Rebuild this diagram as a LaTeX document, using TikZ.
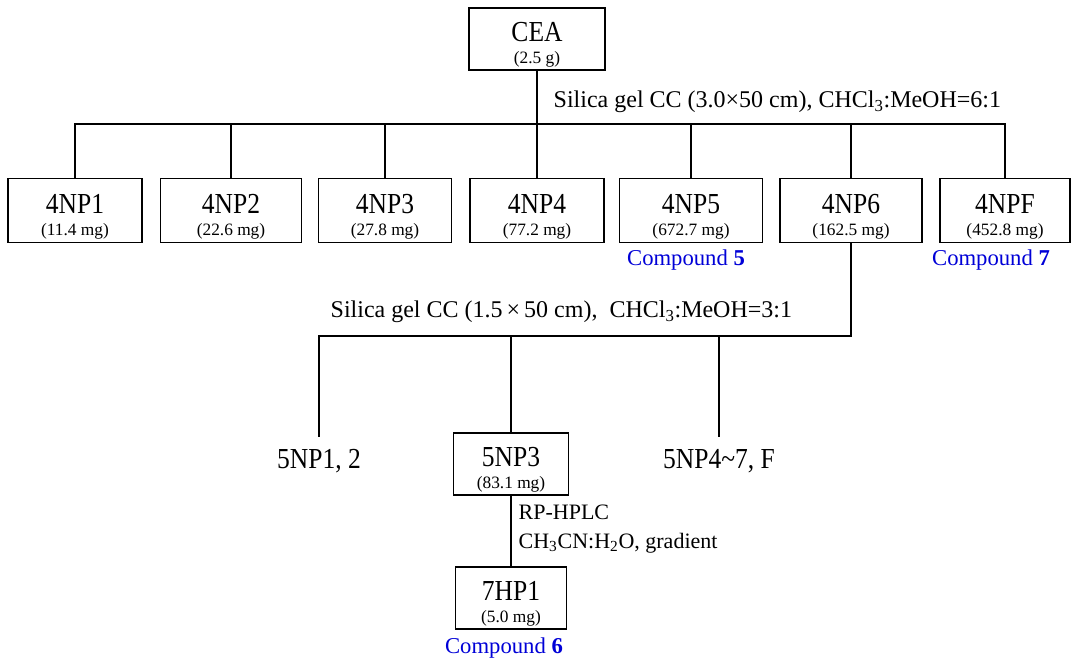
\documentclass[tikz,border=0pt]{standalone}
\usepackage{fontspec}
\setmainfont{Liberation Serif}
\newfontfamily\condserif{Liberation Serif}[FakeStretch=0.88]
\tikzset{every picture/.style={line width=1pt}}
\definecolor{cmpblue}{RGB}{0,0,215}
% label over amount, struts fix the baselines inside the box
\newcommand{\boxlab}[2]{\rule{0pt}{25pt}#1\\{\normalfont\fontsize{13}{13}\selectfont(#2)}\rule[-4.5pt]{0pt}{4.5pt}}
\tikzset{
  fbox/.style={draw, align=center, inner sep=0pt, minimum height=48pt, font=\condserif\fontsize{21.75}{16.5}\selectfont},
  frlab/.style={inner sep=0pt, text height=23pt, text depth=4pt, font=\condserif\fontsize{21.75}{22}\selectfont},
  cctext/.style={inner sep=0pt, font=\fontsize{18}{20}\selectfont},
  hplctext/.style={inner sep=0pt, font=\fontsize{16.5}{20}\selectfont},
  cmpd/.style={inner sep=0pt, text=cmpblue, font=\fontsize{17}{19}\selectfont}
}

\begin{document}
\begin{tikzpicture}[x=0.75pt,y=0.75pt,yscale=-1,xscale=1]
\useasboundingbox (0,0) rectangle (1075,659);

% Boxes
\node (cea) [fbox, minimum width=102pt, minimum height=46.5pt] at (537,39) {\boxlab{CEA}{2.5 g}};
\node (np1) [fbox, minimum width=100.5pt] at (75,210.5) {\boxlab{4NP1}{11.4 mg}};
\node (np2) [fbox, minimum width=105.75pt] at (231,210.5) {\boxlab{4NP2}{22.6 mg}};
\node (np3) [fbox, minimum width=99.75pt] at (385,210.5) {\boxlab{4NP3}{27.8 mg}};
\node (np4) [fbox, minimum width=100.5pt] at (537,210.5) {\boxlab{4NP4}{77.2 mg}};
\node (np5) [fbox, minimum width=107.25pt] at (691,210.5) {\boxlab{4NP5}{672.7 mg}};
\node (np6) [fbox, minimum width=106.5pt] at (851,210.5) {\boxlab{4NP6}{162.5 mg}};
\node (npf) [fbox, minimum width=97.5pt] at (1005,210.5) {\boxlab{4NPF}{452.8 mg}};
\node (fr12) [frlab, anchor=base] at (319,468) {5NP1, 2};
\node (fr3) [fbox, minimum width=86.25pt, minimum height=46.5pt] at (511,464) {\boxlab{5NP3}{83.1 mg}};
\node (fr47) [frlab, anchor=base] at (719,468) {5NP4\textasciitilde7, F};
\node (hp1) [fbox, minimum width=83.25pt, minimum height=46.5pt] at (511,598) {\boxlab{7HP1}{5.0 mg}};

% Text Node
\node (cc1) [cctext, anchor=base west] at (553,108) {Silica gel CC (3.0×50 cm), CHCl\textsubscript{3}:MeOH=6:1};
% Text Node
\node (cc2) [cctext, anchor=base west] at (330,318) {Silica gel CC (1.5\,×\,50 cm),\ \ CHCl\textsubscript{3}:MeOH=3:1};
% Text Node
\node (hplc1) [hplctext, anchor=base west] at (518,519) {RP-HPLC};
\node (hplc2) [hplctext, anchor=base west] at (518,548) {CH\textsubscript{3}CN:H\textsubscript{2}O, gradient};
% Text Node
\node (cmp5) [cmpd, anchor=base] at (686,266) {Compound \textbf{5}};
\node (cmp7) [cmpd, anchor=base] at (991,266) {Compound \textbf{7}};
\node (cmp6) [cmpd, anchor=base] at (504,653) {Compound \textbf{6}};

%Straight Lines
\coordinate (bus1) at (537,124);
\coordinate (bus2) at (851,336);
\draw (cea) -- (cea |- bus1);
\draw (np1) |- (bus1) -| (npf);
\foreach \n in {np2,np3,np4,np5,np6}
  \draw (\n) -- (\n |- bus1);
%Straight Lines
\draw (np6) -- (bus2) -| (fr12);
\foreach \n in {fr3,fr47}
  \draw (\n) -- (\n |- bus2);
\draw (fr3) -- (hp1);

\end{tikzpicture}
\end{document}
